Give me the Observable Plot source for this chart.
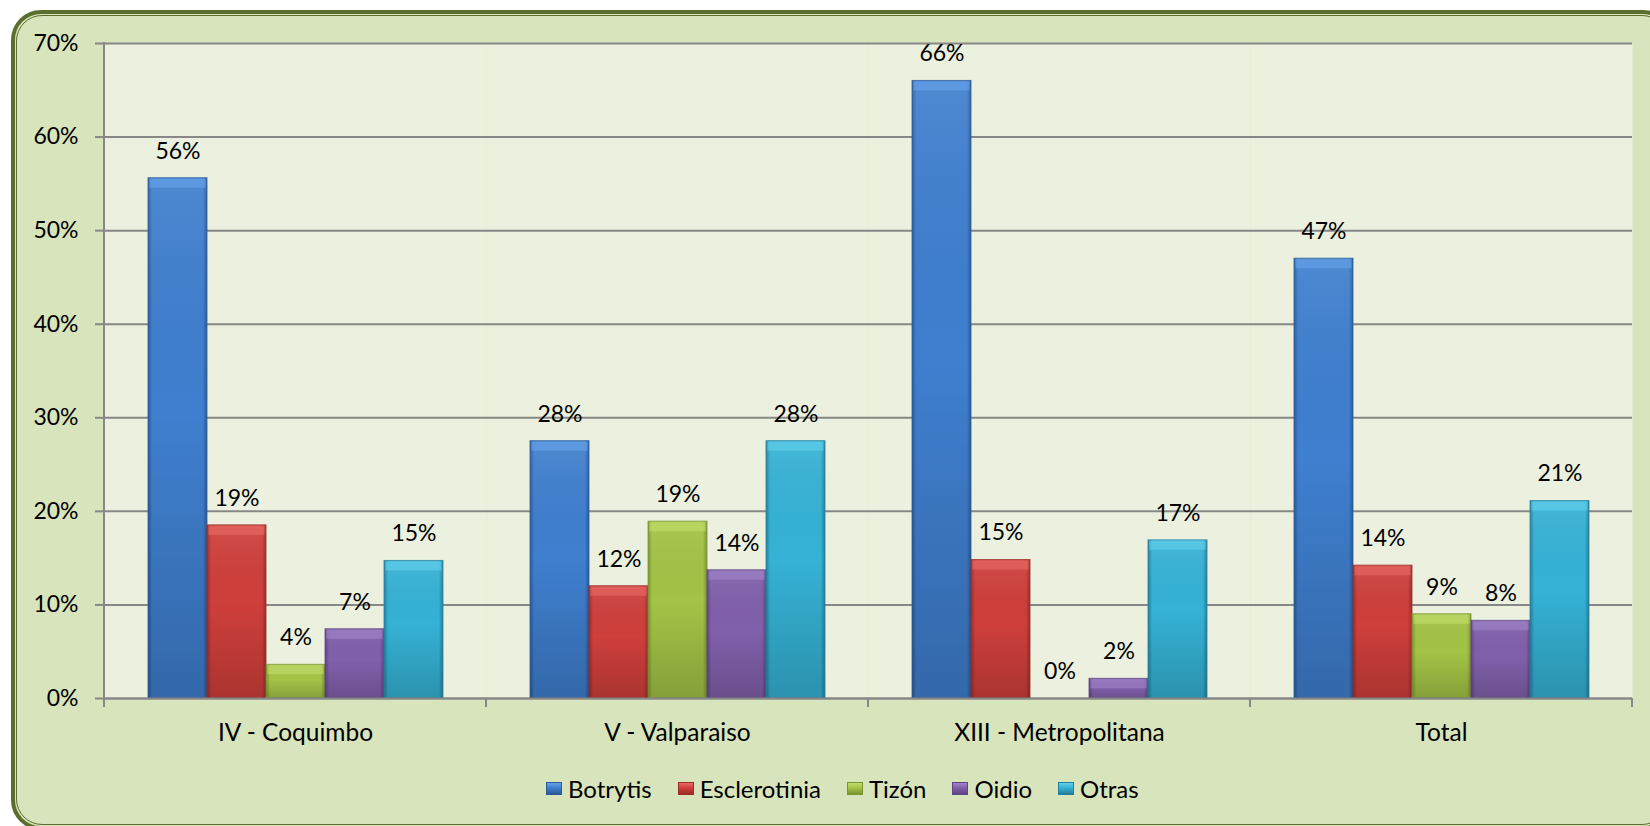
<!DOCTYPE html>
<html>
<head>
<meta charset="utf-8">
<script src="https://cdn.jsdelivr.net/npm/d3@7"></script>
<script src="https://cdn.jsdelivr.net/npm/@observablehq/plot@0.6"></script>
<style>
  html, body { margin: 0; padding: 0; background: #ffffff; width: 1650px; height: 826px; overflow: hidden; font-family: Lato, "Open Sans", sans-serif; }
  #frame { position: absolute; left: 11px; top: 10px; width: 1662px; height: 820px; box-sizing: border-box;
           border: 4px solid #5b6e2d; border-radius: 30px; background: #d8e4bc; }
  #frame::after { content: ""; position: absolute; left: 1px; top: 1px; right: 1px; bottom: 1px;
           border: 1.5px solid #5b6e2d; border-radius: 26px; }
  #chart { position: absolute; left: 0; top: 0; }
  #legend { position: absolute; left: 546px; top: 772px; height: 32px; display: flex; align-items: center; font-size: 24px; color: #000; }
  .item { display: flex; align-items: center; margin-right: 26px; }
  .sw { width: 16px; height: 13px; margin-right: 6px; box-sizing: border-box; }
</style>
</head>
<body>
<div id="frame"></div>
<div id="chart"></div>
<div id="legend"></div>
<script>
// ---- data ----
const categories = ["IV - Coquimbo", "V - Valparaiso", "XIII - Metropolitana", "Total"];
const series = ["Botrytis", "Esclerotinia", "Tizón", "Oidio", "Otras"];
const botrytis     = [0.556, 0.275, 0.660, 0.470];
const esclerotinia = [0.185, 0.120, 0.148, 0.142];
const tizon        = [0.036, 0.189, 0.000, 0.090];
const oidio        = [0.074, 0.137, 0.021, 0.083];
const otras        = [0.147, 0.275, 0.169, 0.211];
const yTicks = [0, 0.1, 0.2, 0.3, 0.4, 0.5, 0.6, 0.7];

// ---- styles ----
const baseColors  = ["#3f7fcf", "#cf3f3b", "#a3c346", "#8160ab", "#35b2d5"];
const lightColors = ["#66a3ea", "#e86a66", "#c2de6a", "#a083c8", "#62d0ec"];
const darkColors  = ["#2c5a98", "#9c2c29", "#7a9530", "#5e4486", "#257f9b"];

const seriesValues = [botrytis, esclerotinia, tizon, oidio, otras];
const data = categories.flatMap((c, ci) =>
  series.map((s, si) => ({category: c, series: s, si, value: seriesValues[si][ci]})));

const pct = d3.format(".0%");

const barMarks = series.map((s, i) => Plot.barY(data.filter(d => d.si === i), {
  fx: "category", x: "series", y: "value",
  fill: `url(#grad${i})`, stroke: darkColors[i], strokeWidth: 1, strokeOpacity: 0.8
}));
const shadeMarks = series.map((s, i) => Plot.barY(data.filter(d => d.si === i && d.value > 0), {
  fx: "category", x: "series", y: "value", fill: "url(#shade)", insetLeft: 0.5, insetRight: 0.5
}));
const bevelMarks = series.map((s, i) => Plot.tickY(data.filter(d => d.si === i && d.value > 0), {
  fx: "category", x: "series", y: "value", stroke: lightColors[i], strokeWidth: 9, dy: 5,
  strokeOpacity: 0.6, insetLeft: 1.5, insetRight: 1.5
}));

const plot = Plot.plot({
  width: 1650, height: 760,
  marginTop: 43, marginLeft: 102, marginRight: 17, marginBottom: 62,
  style: {background: "transparent", fontFamily: "Lato, 'Open Sans', sans-serif", fontSize: "23px", color: "#000", overflow: "visible"},
  fx: {domain: categories, padding: 0, label: null, axis: null},
  x: {domain: series, paddingInner: 0, paddingOuter: 0.72, axis: null},
  y: {domain: [0, 0.7], axis: null},
  marks: [
    Plot.frame({fill: "#ebf1de", stroke: null}),
    Plot.gridY(yTicks, {stroke: "#878787", strokeOpacity: 1, strokeWidth: 2}),
    Plot.axisY(yTicks, {tickFormat: pct, tickSize: 9, tickPadding: 17, stroke: "#878787", strokeWidth: 2,
                        fill: "#000", fontSize: 23, label: null}),
    ...barMarks,
    ...shadeMarks,
    ...bevelMarks,
    Plot.ruleY([0], {stroke: "#878787", strokeWidth: 2}),
    Plot.text(data, {fx: "category", x: "series", y: "value", text: d => pct(d.value),
                     dy: -27, fontSize: 23, fill: "#000"}),
    Plot.axisFx({anchor: "bottom", tickSize: 0, tickPadding: 25, fontSize: 24.5, fill: "#000", label: null})
  ]
});

// gradients referenced by the bar fills
const svg = d3.select(plot);
const defs = svg.insert("defs", ":first-child");
series.forEach((s, i) => {
  const g = defs.append("linearGradient").attr("id", `grad${i}`)
    .attr("x1", 0).attr("x2", 1).attr("y1", 0).attr("y2", 0);
  [[0, darkColors[i]], [0.07, baseColors[i]], [0.5, baseColors[i]], [0.93, baseColors[i]], [1, darkColors[i]]]
    .forEach(([o, c]) => g.append("stop").attr("offset", o).attr("stop-color", c));
});
const sh = defs.append("linearGradient").attr("id", "shade")
  .attr("x1", 0).attr("x2", 0).attr("y1", 0).attr("y2", 1);
[[0, "#ffffff", 0.08], [0.45, "#000000", 0], [1, "#000000", 0.18]]
  .forEach(([o, c, a]) => sh.append("stop").attr("offset", o).attr("stop-color", c).attr("stop-opacity", a));

// axis line and category boundary ticks, placed with Plot's own scales
const fx = plot.scale("fx"), y = plot.scale("y");
const y0 = y.apply(0), yTop = y.apply(yTicks[yTicks.length - 1]);
const bounds = categories.map(c => fx.apply(c));
bounds.push(fx.apply(categories[categories.length - 1]) + fx.bandwidth);
const gAxis = svg.append("g").attr("stroke", "#878787").attr("stroke-width", 2);
gAxis.append("line").attr("x1", bounds[0]).attr("x2", bounds[0]).attr("y1", yTop - 1).attr("y2", y0 + 9);
bounds.slice(1).forEach(bx => gAxis.append("line").attr("x1", bx).attr("x2", bx).attr("y1", y0).attr("y2", y0 + 9));

document.getElementById("chart").appendChild(plot);

// legend
const legend = d3.select("#legend");
series.forEach((s, i) => {
  const it = legend.append("div").attr("class", "item");
  it.append("div").attr("class", "sw")
    .style("background", `linear-gradient(to bottom, ${lightColors[i]} 0%, ${baseColors[i]} 45%, ${darkColors[i]} 100%)`)
    .style("border", `1px solid ${darkColors[i]}`);
  it.append("span").text(s);
});
</script>
</body>
</html>
